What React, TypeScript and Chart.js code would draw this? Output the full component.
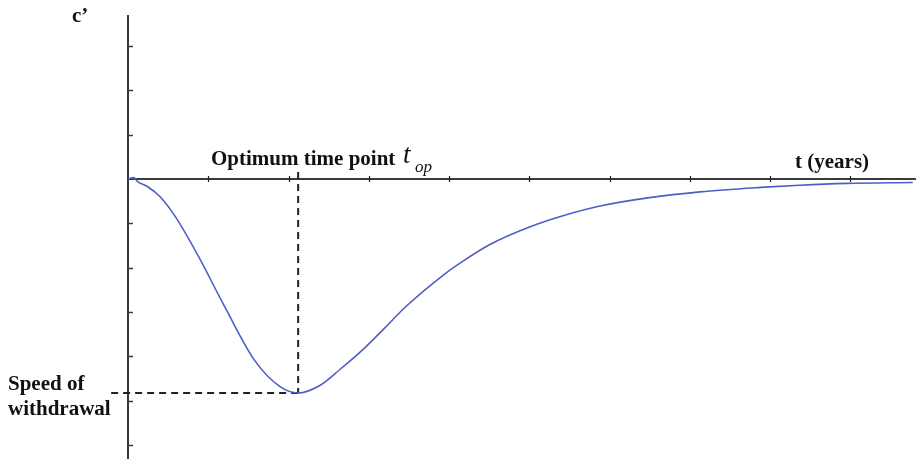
import React, { useEffect, useRef } from "react";
import { Chart, registerables } from "chart.js";

Chart.register(...registerables);

// Rate of change c' over time t (years)
const tValues = [0, 0.07, 0.12, 0.25, 0.4, 0.59, 0.87, 1.21, 1.58, 1.89, 2.12, 2.39, 2.64, 2.95, 3.2, 3.45, 3.95, 4.17, 4.51, 5.01, 5.42, 5.88, 6.5, 7.13, 7.88, 8.37, 8.96, 9.78];
const cValues = [0, 0.03, -0.06, -0.18, -0.4, -0.85, -1.72, -2.9, -4.1, -4.68, -4.83, -4.66, -4.3, -3.81, -3.36, -2.9, -2.14, -1.86, -1.48, -1.08, -0.83, -0.61, -0.42, -0.29, -0.19, -0.14, -0.1, -0.08];

// Axis tick positions
const xTicks = [1, 2, 3, 4, 5, 6, 7, 8, 9];
const yTicks = [3, 2, 1, -1, -2, -3, -4, -5, -6];

// Optimum point (minimum of the curve)
const tOp = 2.12;
const cMin = -4.83;

const X_MIN = -1.595;
const X_MAX = 9.819;
const Y_MIN = -6.32;
const Y_MAX = 4.04;
const Y_AXIS_TOP = 3.7;

const serif = "'Liberation Serif', 'Times New Roman', serif";

const annotationPlugin = {
  id: "annotations",
  beforeDatasetsDraw(chart: any) {
    const { ctx, scales } = chart;
    const xs = scales.x;
    const ys = scales.y;
    const x0 = xs.getPixelForValue(0);
    const y0 = ys.getPixelForValue(0);
    const w = chart.width;
    const h = chart.height;

    ctx.save();
    ctx.strokeStyle = "#3a3a3a";
    ctx.lineWidth = 2;
    // vertical axis
    ctx.beginPath();
    ctx.moveTo(x0, ys.getPixelForValue(Y_AXIS_TOP));
    ctx.lineTo(x0, h);
    ctx.stroke();
    // horizontal axis
    ctx.beginPath();
    ctx.moveTo(x0, y0);
    ctx.lineTo(w, y0);
    ctx.stroke();

    // y ticks
    ctx.lineWidth = 1.5;
    for (const v of yTicks) {
      const y = Math.round(ys.getPixelForValue(v)) + 0.5;
      ctx.beginPath();
      ctx.moveTo(x0, y);
      ctx.lineTo(x0 + 5, y);
      ctx.stroke();
    }
    // x ticks
    ctx.lineWidth = 1.2;
    ctx.strokeStyle = "#222";
    for (const t of xTicks) {
      const x = Math.round(xs.getPixelForValue(t)) + 0.5;
      ctx.beginPath();
      ctx.moveTo(x, y0 - 3);
      ctx.lineTo(x, y0 + 3);
      ctx.stroke();
    }

    // dashed guides to the optimum point
    const xOp = xs.getPixelForValue(tOp);
    const yMin = ys.getPixelForValue(cMin);
    ctx.strokeStyle = "#222";
    ctx.lineWidth = 2;
    ctx.setLineDash([7, 5]);
    ctx.beginPath();
    ctx.moveTo(xOp, y0 - 7);
    ctx.lineTo(xOp, yMin);
    ctx.stroke();
    ctx.beginPath();
    ctx.moveTo(xOp, yMin);
    ctx.lineTo(xs.getPixelForValue(-0.26), yMin);
    ctx.stroke();
    ctx.setLineDash([]);

    // labels
    ctx.fillStyle = "#111";
    ctx.textAlign = "left";
    ctx.textBaseline = "alphabetic";
    ctx.font = `bold 21px ${serif}`;
    ctx.fillText("c\u2019", 72, 22);
    ctx.fillText("Optimum time point", 211, 165);
    ctx.fillText("t (years)", 795, 168);
    ctx.fillText("Speed of", 8, 390);
    ctx.fillText("withdrawal", 8, 415);
    ctx.font = `italic 27px ${serif}`;
    ctx.fillText("t", 403, 163);
    ctx.font = `italic 17px ${serif}`;
    ctx.fillText("op", 415, 172);
    ctx.restore();
  },
};

export default function App() {
  const canvasRef = useRef<HTMLCanvasElement | null>(null);

  useEffect(() => {
    document.body.style.margin = "0";
    const canvas = canvasRef.current;
    if (!canvas) return;
    const chart = new Chart(canvas, {
      type: "line",
      data: {
        datasets: [
          {
            data: tValues.map((t, i) => ({ x: t, y: cValues[i] })),
            borderColor: "#4e5ec6",
            borderWidth: 1.6,
            pointRadius: 0,
            fill: false,
            cubicInterpolationMode: "monotone",
          },
        ],
      },
      options: {
        animation: false,
        responsive: false,
        maintainAspectRatio: false,
        layout: { padding: 0 },
        plugins: { legend: { display: false }, tooltip: { enabled: false } },
        scales: {
          x: { type: "linear", min: X_MIN, max: X_MAX, display: false },
          y: { type: "linear", min: Y_MIN, max: Y_MAX, display: false },
        },
      },
      plugins: [annotationPlugin],
    });
    return () => chart.destroy();
  }, []);

  return (
    <div style={{ position: "fixed", left: 0, top: 0, width: 916, height: 459, background: "#fff" }}>
      <canvas ref={canvasRef} width={916} height={459} style={{ display: "block" }} />
    </div>
  );
}
